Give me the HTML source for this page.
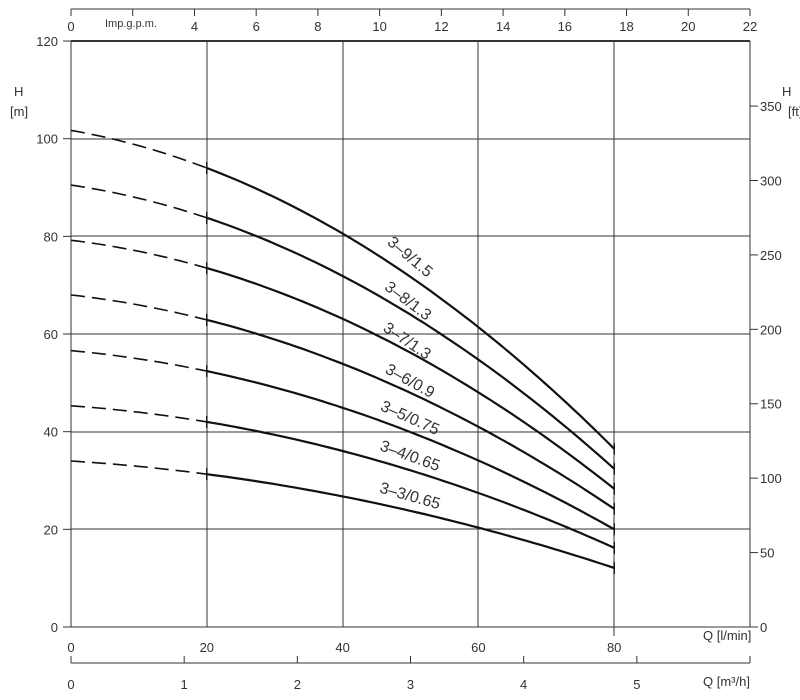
<!DOCTYPE html>
<html><head><meta charset="utf-8"><style>
body{margin:0;background:#fff;}
svg text{font-family:"Liberation Sans",sans-serif;fill:#333;}
</style></head><body>
<svg id="s" width="800" height="695" xmlns="http://www.w3.org/2000/svg">
<g stroke="#333" stroke-width="1" fill="none">
<line x1="71" y1="9" x2="750" y2="9"/>
<line x1="71" y1="41" x2="750" y2="41" stroke-width="2"/>
<line x1="71" y1="41" x2="71" y2="627"/>
<line x1="750" y1="41" x2="750" y2="627"/>
<line x1="71" y1="627" x2="750" y2="627"/>
<line x1="71" y1="663" x2="750" y2="663"/>
<line x1="207" y1="41" x2="207" y2="627"/>
<line x1="343" y1="41" x2="343" y2="627"/>
<line x1="478" y1="41" x2="478" y2="627"/>
<line x1="614" y1="41" x2="614" y2="636"/>
<line x1="71" y1="139" x2="750" y2="139"/>
<line x1="71" y1="236" x2="750" y2="236"/>
<line x1="71" y1="334" x2="750" y2="334"/>
<line x1="71" y1="432" x2="750" y2="432"/>
<line x1="71" y1="529" x2="750" y2="529"/>
</g>
<g id="t" stroke="#333" stroke-width="1"></g>
<g id="c" fill="none" stroke="#111" stroke-width="2.2"></g>
<g font-size="13">
<text x="14" y="96">H</text><text x="10" y="116">[m]</text>
<text x="782" y="96">H</text><text x="788" y="116">[ft]</text>
<text x="105" y="27" font-size="11">Imp.g.p.m.</text>
<text x="703" y="640">Q [l/min]</text>
<text x="703" y="686">Q [m³/h]</text>
</g>
<g font-size="16">
<text transform="translate(410,257) rotate(40)" text-anchor="middle" dy="5">3–9/1.5</text>
<text transform="translate(408,301) rotate(37)" text-anchor="middle" dy="5">3–8/1.3</text>
<text transform="translate(407,341) rotate(34)" text-anchor="middle" dy="5">3–7/1.3</text>
<text transform="translate(410,381) rotate(29)" text-anchor="middle" dy="5">3–6/0.9</text>
<text transform="translate(410,418) rotate(24)" text-anchor="middle" dy="5">3–5/0.75</text>
<text transform="translate(410,456) rotate(20)" text-anchor="middle" dy="5">3–4/0.65</text>
<text transform="translate(410,496) rotate(16)" text-anchor="middle" dy="5">3–3/0.65</text>
</g>
<g id="l" font-size="13"></g>
</svg>
<script>
var NS="http://www.w3.org/2000/svg";
function el(p,n,a,txt){var e=document.createElementNS(NS,n);for(var k in a)e.setAttribute(k,a[k]);if(txt!==undefined)e.textContent=txt;document.getElementById(p).appendChild(e);}
function X(q){return 71+q*6.79;}function Y(h){return 627-h*4.883;}
for(var h=0;h<=120;h+=20){el('t','line',{x1:63,y1:Y(h),x2:71,y2:Y(h)});el('l','text',{x:58,y:Y(h)+5,'text-anchor':'end'},h);}
for(var q=0;q<=80;q+=20){el('l','text',{x:X(q),y:652,'text-anchor':'middle'},q);}
for(var f=0;f<=350;f+=50){var y=627-f*0.3048*4.883;el('t','line',{x1:750,y1:y,x2:758,y2:y});el('l','text',{x:760,y:y+5},f);}
for(var g=0;g<=22;g+=2){var x=71+g*679/22;el('t','line',{x1:x,y1:9,x2:x,y2:16});if(g!=2)el('l','text',{x:x,y:31,'text-anchor':'middle'},g);}
for(var m=0;m<=5;m++){var x=71+m*16.667*6.79;el('t','line',{x1:x,y1:663,x2:x,y2:656});el('l','text',{x:x,y:689,'text-anchor':'middle'},m);}
el('t','line',{x1:750,y1:663,x2:750,y2:656});
var C=[[101.7,94,36.5],[90.5,83.8,32.4],[79.2,73.5,28.3],[68,62.9,24.2],[56.6,52.4,20],[45.3,42,16.2],[34,31.3,12.1]];
C.forEach(function(p){var a=p[0];var A=p[1]-a,B=p[2]-a;var c=(B-4*A)/4800,b=(A-400*c)/20;
function H(q){return a+b*q+c*q*q;}
var d1="",d2="";for(var q=0;q<=20;q+=1)d1+=(q?"L":"M")+X(q).toFixed(1)+","+Y(H(q)).toFixed(1);
for(var q=20;q<=80;q+=1)d2+=(q>20?"L":"M")+X(q).toFixed(1)+","+Y(H(q)).toFixed(1);
el('c','path',{d:d1,'stroke-dasharray':'14,7','stroke-width':1.6});el('c','path',{d:d2});
[20,80].forEach(function(q){el('c','line',{x1:X(q),y1:Y(H(q))-6,x2:X(q),y2:Y(H(q))+6,'stroke-width':1.5});});
});
</script>
</body></html>
